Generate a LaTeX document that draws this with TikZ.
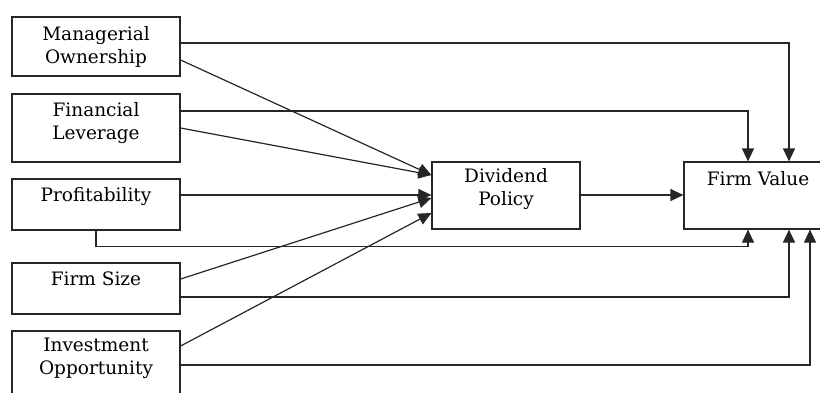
\documentclass[tikz,border=0pt]{standalone}
\usepackage{fontspec}
\setmainfont{DejaVu Serif}
\usetikzlibrary{arrows.meta}
\tikzstyle{box} = [rectangle, draw=black!85, line width=1.2pt, minimum width=168pt, inner sep=0pt]
\tikzstyle{txt} = [anchor=north, align=center, inner sep=9pt, font=\fontsize{18.5}{23}\selectfont]
\tikzstyle{arrow} = [line width=1.2pt, draw=black!85, -{Triangle[length=13pt,width=12pt]}]

\begin{document}
\begin{tikzpicture}[x=1pt, y=-1pt]
		\useasboundingbox (0,0) rectangle (820,392);
		\clip (0,0) rectangle (820,392);
		\node (mo) [box, minimum height=59pt, label={[txt, inner sep=10pt]north:Managerial\\Ownership}] at (96,46.5) {};
		\node (fl) [box, minimum height=68pt, label={[txt]north:Financial\\Leverage}] at (96,128) {};
		\node (pr) [box, minimum height=51pt, label={[txt]north:Profitability}] at (96,204.5) {};
		\node (fs) [box, minimum height=51pt, label={[txt]north:Firm Size}] at (96,288.5) {};
		\node (io) [box, minimum height=70pt, label={[txt, inner sep=7pt]north:Investment\\Opportunity}] at (96,366) {};
		\node (dp) [box, minimum width=148pt, minimum height=67pt, label={[txt, inner sep=7pt]north:Dividend\\Policy}] at (506,195.5) {};
		\node (fv) [box, minimum width=148pt, minimum height=67pt, label={[txt, inner sep=10pt]north:Firm Value}] at (758,195.5) {};
		
		% paths into dividend policy
		\draw [arrow] ([yshift=-13.5pt]mo.east) -- ([yshift=20.5pt]dp.west);
		\draw [arrow] (fl.east) -- ([yshift=20.5pt]dp.west);
		\draw [arrow] ([yshift=9.5pt]pr.east) -- ([yshift=0.5pt]dp.west);
		\draw [arrow] ([yshift=9.5pt]fs.east) -- ([yshift=-2.5pt]dp.west);
		\draw [arrow] ([yshift=20pt]io.east) -- ([yshift=-17.5pt]dp.west);
		\draw [arrow] ([yshift=0.5pt]dp.east) -- ([yshift=0.5pt]fv.west);
		
		% direct paths into firm value
		\draw [arrow] ([yshift=3.5pt]mo.east) -| ([xshift=31pt]fv.north);
		\draw [arrow] ([yshift=17pt]fl.east) -| ([xshift=-10pt]fv.north);
		\draw [arrow] (pr.south) -- ++(0,16) -| ([xshift=-10pt]fv.south);
		\draw [arrow] ([yshift=-8.5pt]fs.east) -| ([xshift=31pt]fv.south);
		\draw [arrow] ([yshift=1pt]io.east) -| ([xshift=52pt]fv.south);
	\end{tikzpicture}
\end{document}
